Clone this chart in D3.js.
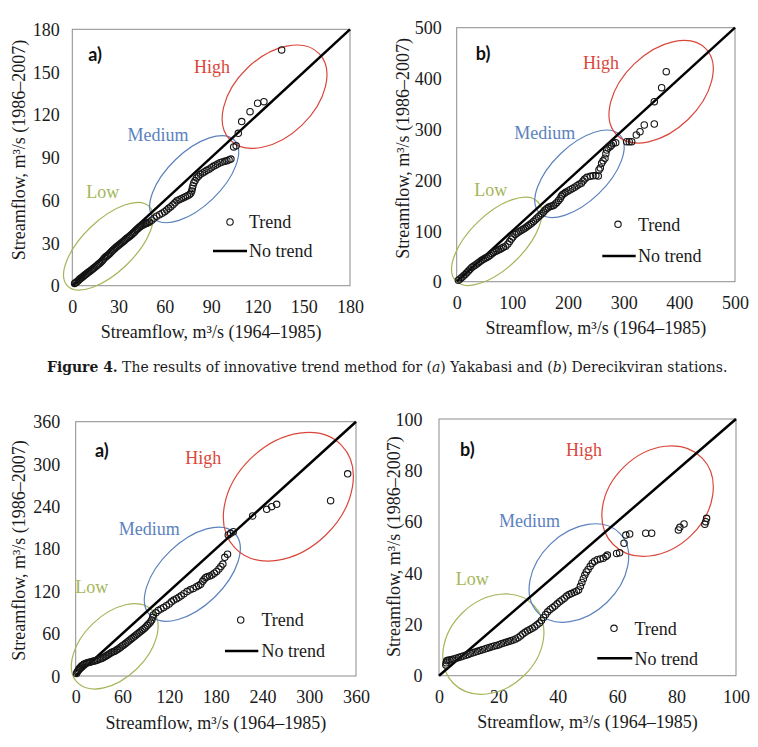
<!DOCTYPE html>
<html><head><meta charset="utf-8">
<script src="https://cdn.jsdelivr.net/npm/d3@7"></script>
<style>body{margin:0;background:#fff}</style>
</head><body>
<svg id="c" width="758" height="747"></svg>
<script>
// ---------------- DATA ----------------
// Top row a) Yakabasi : first half (1964–1985) vs second half (1986–2007), sorted
const topA_x = [1.5,2.3,3.0,3.8,4.5,5.2,6.0,6.8,7.5,8.3,9.0,9.8,10.6,11.4,12.2,13.0,13.8,14.6,15.4,16.2,17.0,17.8,18.6,19.4,20.2,21.0,21.8,22.6,23.4,24.2,25.0,25.8,26.6,27.4,28.2,29.0,29.8,30.6,31.4,32.2,33.0,33.8,34.6,35.4,36.2,37.0,37.8,38.6,39.4,40.2,41.0,41.8,42.6,43.4,44.2,45.0,45.8,46.6,47.4,48.2,49.0,50.0,
  51.5,53.0,54.7,56.5,58.2,59.8,61.2,62.5,63.8,65.2,66.5,67.8,69.2,70.6,72.0,73.3,74.6,75.8,76.8,77.4,77.8,78.2,78.8,79.6,80.6,81.8,83.0,84.4,85.8,87.2,88.6,90.0,91.4,92.8,94.2,95.7,97.2,98.8,100.2,101.6,102.8,
  104.6,106.2,107.6,109.8,115.2,120.1,124.2,135.7];
const topA_y = [1.6,2.2,2.8,3.5,4.3,5.0,5.6,6.3,7.0,7.6,8.3,9.0,9.6,10.2,10.9,11.5,12.2,12.9,13.7,14.4,15.2,15.8,16.6,17.6,18.6,19.6,20.4,21.1,21.8,22.6,23.5,24.3,25.2,26.0,26.8,27.5,28.2,28.9,29.6,30.3,31.0,31.8,32.6,33.3,33.9,34.6,35.3,36.0,36.8,37.6,38.6,39.4,40.2,41.0,41.6,42.2,42.7,43.1,43.5,43.8,44.2,44.8,
  46.0,47.4,48.8,49.8,50.9,52.0,53.2,54.3,55.5,56.8,58.2,59.6,60.4,61.0,61.8,62.5,63.1,63.8,64.9,66.5,68.3,70.2,72.2,73.8,75.6,76.8,78.2,79.2,80.0,81.0,81.8,82.8,83.8,84.6,85.4,86.3,86.8,87.3,87.8,88.4,88.9,
  97.4,98.2,107.0,115.2,122.2,128.1,129.2,165.5];

// Top row b) Derecikviran
const topB_x = [3,6,9,12,15,18,21,24,27,30,33,36,39,42,45,48,51,54,57,60,63,66,69,72,75,78,81,84,88,92,95,98,101,105,108,111,114,117,120,123,126,129,132,135,138,141,144,147,150,153,
  156,159,162,165,168,171,174,177,180,183,186,188,190,193,196,200,204,208,212,216,220,224,227,230,234,240,245,250,254.4,255.6,258,260.4,263,266.4,268,269.4,272,275.4,278,281.3,285.6,
  305.4,310,314.4,322.7,329.3,337,355,355,368.2,376.5];
const topB_y = [3,5.5,8.5,11,14,17.5,21,24.5,28,30.5,32.5,35,37.5,40,42,44,46,47.5,49.5,52,55,57.5,59.5,61,62.5,64,66,68,70,74,79,84,88,93,95.5,98,100,102,103.5,105.5,108,110.5,113,115.5,118.5,121.5,125,128,131,134,
  137,141,144,146.5,148,149,150,153,156,160,164,168,171,173.5,176,178.5,181,183.5,186,189,192,194,198,202,205.5,207.5,208.5,209,208,220,224,233,238,243,252,259.3,263,265.7,268.5,272.4,273.6,
  275.6,275.6,275.6,288.8,295.3,308.5,310.4,354.3,381.9,413.4];

// Bottom row a)
const botA_x = [1,2,3,4,5,6.2,7.5,9,10.5,12,14,16,18,20,22,24,26,28,30,32,34,36,38,40,42,44,46,48,50,52,54,56,58,60,62,64,66,68,70,72,74,76,78,80,82,84,86,88,90,92,94,96,97.6,99,
  99.7,103,106.1,109.5,113,116.5,120,123,126,129.5,132.5,135.5,139,143,147,151,155,158,160.5,163,165,167,169,172,175,178,181,184,186.5,189,191.5,195,196,199,
  202.4,227.3,245.3,251.7,258.1,327.4,349.3];
const botA_y = [3.5,5.5,7.5,9.5,11,12.5,14,15.3,16.5,17.5,18.3,19,19.6,20.2,20.8,21.4,22,22.8,23.6,24.4,25.3,26.4,27.6,29,30.4,32,33.2,34.2,35.2,36.4,37.8,39.4,41.2,42.8,44.3,46,47.8,49.5,51.3,53,54.8,56.5,58.4,60.2,62,63.8,65.5,67.3,69.5,71.8,74,76.5,79.3,83,
  86.4,89.5,92.8,95,97,99.5,102,105,107.5,109.5,111.5,113.5,116.5,119.5,122,124,126.5,128,130,134,137,139.5,140.5,141.5,143,145.5,148,151.5,155,158.5,168,172.5,199.6,202,
  204.3,226.5,236,239.7,243.1,248.2,286.2];

// Bottom row b)
const botB_x = [2.3,2.4,2.6,3.0,3.6,4.3,5.0,5.8,6.6,7.4,8.2,9.0,9.8,10.6,11.4,12.2,13.0,13.8,14.6,15.4,16.2,17.0,17.8,18.6,19.4,20.2,21.0,21.8,22.6,23.4,24.2,25.0,25.8,26.6,27.4,28.2,29.0,29.8,30.6,31.4,32.2,33.0,33.8,34.5,35.2,
  35.9,36.6,37.4,38.2,39.0,39.8,40.6,41.4,42.2,43.0,43.8,44.6,45.5,46.3,47.0,47.6,48.1,48.6,49.1,49.6,50.2,50.9,51.6,52.4,53.3,54.3,55.3,56.2,56.7,59.8,60.8,62.3,
  62.9,64.2,69.6,71.6,80.6,81.1,82.5,89.5,89.8,90.1];
const botB_y = [4.2,5.0,5.8,6.0,6.1,6.3,6.5,6.8,7.1,7.4,7.7,8.0,8.3,8.6,8.9,9.2,9.5,9.8,10.1,10.4,10.7,11.0,11.3,11.6,11.8,12.1,12.4,12.7,13.0,13.3,13.6,13.9,14.3,14.8,15.5,16.2,16.9,17.5,18.0,18.5,19.1,19.8,20.5,21.5,22.7,
  23.8,24.9,25.8,26.5,27.2,28.0,28.8,29.5,30.2,31.0,31.6,32.0,32.5,32.9,33.4,34.8,36.3,37.8,39.2,40.4,41.4,42.6,43.8,44.6,45.2,45.5,45.8,46.4,47.0,47.6,47.9,51.6,
  54.8,55.2,55.5,55.5,56.8,57.8,59.1,59.0,60.0,61.3];

const topA_ticks = [0,30,60,90,120,150,180];
const topB_ticks = [0,100,200,300,400,500];
const botA_ticks = [0,60,120,180,240,300,360];
const botB_ticks = [0,20,40,60,80,100];

const regionNames = ["Low","Medium","High"];
const legendNames = ["Trend","No trend"];
const panelLabels = ["a)","b)","a)","b)"];
const xTitle = "Streamflow, m³/s (1964–1985)";
const yTitle = "Streamflow, m³/s (1986–2007)";
const captionParts = [
  {t:"Figure 4.", w:"bold", s:"normal"},
  {t:" The results of innovative trend method for (", w:"normal", s:"normal"},
  {t:"a", w:"normal", s:"italic"},
  {t:") Yakabasi and (", w:"normal", s:"normal"},
  {t:"b", w:"normal", s:"italic"},
  {t:") Derecikviran stations.", w:"normal", s:"normal"}
];

// --------------- LAYOUT ----------------
const regionColors = ["#a4b65a","#5b82bd","#d9473b"];
const SERIF = "'Liberation Serif','Times New Roman',serif";

const panels = [
  {xs:topA_x, ys:topA_y, ticks:topA_ticks, max:180, l:72.3, r:350, t:29.3, b:285.7, ypad:12.5,
   ytX:25, ytY:150, lab:[16,31.7],
   ell:[[23.4,27.7,57,26],[79.0,74.8,56,27],[131.1,132.7,62,39.5]],
   txt:[[19.8,61.6],[55.5,101.6],[90.5,149.3]],
   leg:{cx:230, cy:222, tx:249, lx1:213, lx2:247, ly:251}},
  {xs:topB_x, ys:topB_y, ticks:topB_ticks, max:500, l:456.7, r:735, t:27.7, b:281.7, ypad:15,
   ytX:409, ytY:148.3, lab:[19,32.3],
   ell:[[71.9,79.5,57,27],[220.6,212.4,56,27.6],[367.3,374,62,38.7]],
   txt:[[61.1,168.7],[158.1,281.5],[259.4,418.1]],
   leg:{cx:618, cy:224.3, tx:638, lx1:602.3, lx2:635.7, ly:256}},
  {xs:botA_x, ys:botA_y, ticks:botA_ticks, max:360, l:75.7, r:356, t:421.7, b:676, ypad:15.5,
   ytX:25, ytY:550.5, lab:[19.3,35.3],
   ell:[[50.1,42.0,52,31.5],[149.8,144.1,59,32],[273.1,253.8,74,53.6]],
   txt:[[20.5,117.1],[94.5,199.2],[163.9,299.7]],
   leg:{cx:240.7, cy:620, tx:261.5, lx1:225, lx2:258.3, ly:651}},
  {xs:botB_x, ys:botB_y, ticks:botB_ticks, max:100, l:439, r:736, t:419, b:675.7, ypad:16.5,
   ytX:400, ytY:546.7, lab:[21,36.5],
   ell:[[18.3,12.3,56,44],[47.1,40.0,57,40.6],[73.6,68.0,62,48]],
   txt:[[11.2,35.3],[30.5,58.0],[48.8,85.6]],
   leg:{cx:614, cy:628.3, tx:634.5, lx1:597.3, lx2:632.3, ly:658.3}}
];

const svg = d3.select("#c");
svg.append("rect").attr("width",758).attr("height",747).attr("fill","#fff");

panels.forEach((p,i) => {
  const x = d3.scaleLinear().domain([0,p.max]).range([p.l,p.r]);
  const y = d3.scaleLinear().domain([0,p.max]).range([p.b,p.t]);
  const g = svg.append("g");

  g.append("rect").attr("x",p.l).attr("y",p.t).attr("width",p.r-p.l).attr("height",p.b-p.t)
    .attr("fill","none").attr("stroke","#8c8c8c").attr("stroke-width",1);

  const ax = g.append("g").attr("transform",`translate(0,${p.b})`)
    .call(d3.axisBottom(x).tickValues(p.ticks).tickSize(0).tickPadding(14.5).tickFormat(d3.format("d")));
  ax.select(".domain").remove();
  ax.selectAll("text").attr("font-family",SERIF).attr("font-size",18).attr("fill","#1a1a1a");

  const ay = g.append("g").attr("transform",`translate(${p.l},0)`)
    .call(d3.axisLeft(y).tickValues(p.ticks).tickSize(0).tickPadding(p.ypad).tickFormat(d3.format("d")));
  ay.select(".domain").remove();
  ay.selectAll("text").attr("font-family",SERIF).attr("font-size",18).attr("fill","#1a1a1a").attr("dy","0.34em");

  // region ellipses
  p.ell.forEach((e,k) => {
    g.append("ellipse").attr("cx",0).attr("cy",0).attr("rx",e[2]).attr("ry",e[3])
      .attr("transform",`translate(${x(e[0])},${y(e[1])}) rotate(-44)`)
      .attr("fill","none").attr("stroke",regionColors[k]).attr("stroke-width",1.2);
  });
  // region labels
  p.txt.forEach((t,k) => {
    g.append("text").attr("x",x(t[0])).attr("y",y(t[1])).attr("text-anchor","middle")
      .attr("font-family",SERIF).attr("font-size",18).attr("fill",regionColors[k]).text(regionNames[k]);
  });

  // no-trend line
  g.append("line").attr("x1",x(0)).attr("y1",y(0)).attr("x2",x(p.max)).attr("y2",y(p.max))
    .attr("stroke","#000").attr("stroke-width",2.5);

  // points
  g.append("g").selectAll("circle").data(d3.zip(p.xs,p.ys)).join("circle")
    .attr("cx",d=>x(d[0])).attr("cy",d=>y(d[1])).attr("r",3.2)
    .attr("fill","none").attr("stroke","#151515").attr("stroke-width",1.1);

  // legend
  const L = p.leg;
  g.append("circle").attr("cx",L.cx).attr("cy",L.cy).attr("r",3.2).attr("fill","none").attr("stroke","#151515").attr("stroke-width",1.1);
  g.append("text").attr("x",L.tx).attr("y",L.cy+6.2).attr("font-family",SERIF).attr("font-size",18).attr("fill","#1a1a1a").text(legendNames[0]);
  g.append("line").attr("x1",L.lx1).attr("x2",L.lx2).attr("y1",L.ly).attr("y2",L.ly).attr("stroke","#000").attr("stroke-width",2.5);
  g.append("text").attr("x",L.tx).attr("y",L.ly+6.2).attr("font-family",SERIF).attr("font-size",18).attr("fill","#1a1a1a").text(legendNames[1]);

  // panel label
  g.append("text").attr("x",p.l+p.lab[0]).attr("y",p.t+p.lab[1]).attr("font-family","Lato,'Open Sans',sans-serif")
    .attr("font-weight","bold").attr("font-size",18).attr("fill","#111").text(panelLabels[i]);

  // axis titles
  g.append("text").attr("x",(p.l+p.r)/2).attr("y",p.b+52.5).attr("text-anchor","middle")
    .attr("font-family",SERIF).attr("font-size",18).attr("fill","#1a1a1a").text(xTitle);
  g.append("text").attr("transform",`translate(${p.ytX},${p.ytY}) rotate(-90)`).attr("text-anchor","middle")
    .attr("font-family",SERIF).attr("font-size",18).attr("fill","#1a1a1a").text(yTitle);
});

// caption
const cap = svg.append("text").attr("x",47).attr("y",372).attr("font-family","'DejaVu Serif',serif")
  .attr("font-size",14).attr("fill","#1a1a1a");
captionParts.forEach(c => cap.append("tspan").attr("font-weight",c.w).attr("font-style",c.s).text(c.t));
const len = cap.node().getComputedTextLength();
cap.attr("font-size", 14*681/len);
</script>
</body></html>
